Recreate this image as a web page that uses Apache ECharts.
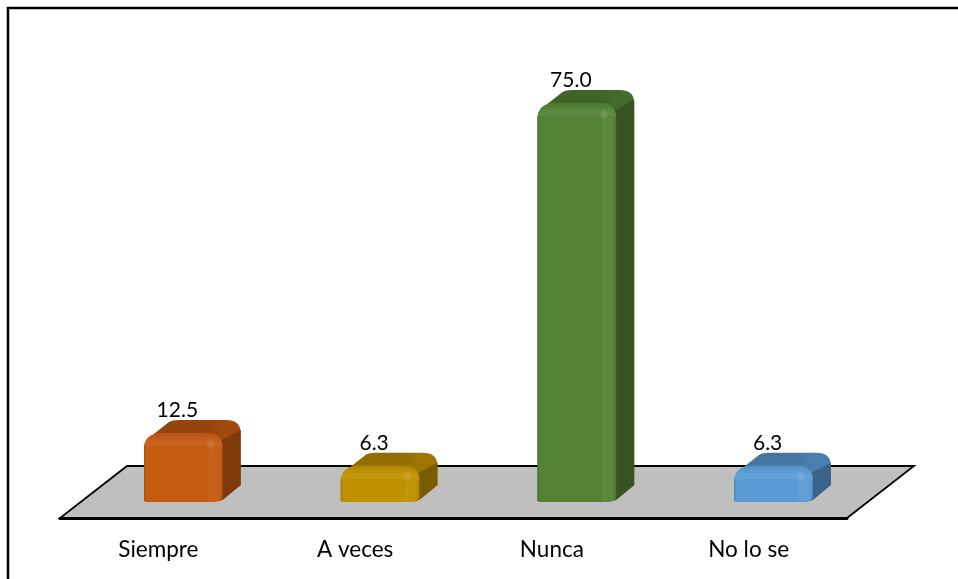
<!DOCTYPE html>
<html><head><meta charset="utf-8">
<style>html,body{margin:0;padding:0;background:#fff}#c{width:958px;height:579px}</style>
<script src="https://cdn.jsdelivr.net/npm/echarts@6/dist/echarts.min.js"></script>
</head><body><div id="c"></div>
<script>
const categories = ['Siempre', 'A veces', 'Nunca', 'No lo se'];
const values = [12.5, 6.3, 75.0, 6.3];
const barColors = ['#C55A11', '#BF9000', '#548235', '#5B9BD5'];

function shade(hex, f) {
  const n = parseInt(hex.slice(1), 16);
  const ch = [n >> 16 & 255, n >> 8 & 255, n & 255].map(c =>
    Math.round(f <= 1 ? c * f : c + (255 - c) * (f - 1)));
  return 'rgb(' + ch.join(',') + ')';
}
const hGrad = c => ({type:'linear',x:0,y:0,x2:1,y2:0,colorStops:[
  {offset:0,color:shade(c,0.85)},{offset:0.025,color:c},{offset:0.80,color:c},
  {offset:0.83,color:shade(c,1.05)},{offset:0.96,color:shade(c,1.03)},{offset:1,color:shade(c,0.9)}]});
const vGrad = c => ({type:'linear',x:0,y:0,x2:0,y2:1,colorStops:[
  {offset:0,color:shade(c,0.92)},{offset:0.6,color:shade(c,1.05)},{offset:0.92,color:shade(c,1.05)},{offset:1,color:shade(c,1.0)}]});
const topGrad = c => ({type:'linear',x:0,y:0,x2:1,y2:0,colorStops:[
  {offset:0,color:shade(c,0.76)},{offset:0.65,color:shade(c,0.76)},{offset:0.8,color:shade(c,0.82)},{offset:1,color:shade(c,0.82)}]});
const glow = c => ({type:'radial',x:0.5,y:0.5,r:0.5,colorStops:[
  {offset:0,color:shade(c,1.22)},{offset:1,color:shade(c,1.05)}]});

function renderFloor(params, api) {
  const g = params.coordSys;
  const front = g.y + g.height + 16, back = g.y + g.height - 36, dx = 67;
  const L = g.x, R = g.x + g.width;
  return {type:'polygon', shape:{points:[[L,front],[R,front],[R+dx,back],[L+dx,back]]},
    style:{fill:'#BFBFBF', stroke:'#000', lineWidth:1.8}};
}

function renderBar(params, api) {
  const i = params.dataIndex, v = api.value(1);
  const c = barColors[i];
  const base = api.coord([api.value(0), 0]);
  const T = api.coord([api.value(0), v])[1];
  const band = api.size([1, 0])[0];
  const w = band * 0.40, off = band * 0.127;
  const L = base[0] + off - w / 2, R = L + w, B = base[1];
  const dx = 18, dy = 16;
  const silhouette = `M${L} ${B-1} L${L} ${T+12} Q${L} ${T+6} ${L+6} ${T+1}
    L${L+25} ${T-dy+2} Q${L+28} ${T-dy} ${L+35} ${T-dy}
    L${R+3} ${T-dy} Q${R+dx} ${T-dy} ${R+dx} ${T-dy+13}
    L${R+dx} ${B-dy-1} L${R+1} ${B-3} Q${R-3} ${B} ${R-12} ${B}
    L${L+4} ${B} Z`;
  const side = `M${R-3} ${T+5} L${R+dx} ${T-dy+10}
    L${R+dx} ${B-dy-1} L${R+1} ${B-3} L${R-3} ${B-1} Z`;
  const front = `M${L} ${B-1} L${L} ${T+12} Q${L+1} ${T-2} ${L+17} ${T-3}
    L${R-16} ${T-3} Q${R} ${T-3} ${R} ${T+13}
    L${R} ${B-4} Q${R-3} ${B} ${R-12} ${B} L${L+4} ${B} Z`;
  const bevel = `M${L} ${T+11} Q${L+1} ${T-2} ${L+17} ${T-3}
    L${R-16} ${T-3} Q${R-1} ${T-3} ${R} ${T+11} Z`;
  const silTop = T - dy;
  return {type:'group', children:[
    {type:'path', shape:{pathData:silhouette}, style:{fill:topGrad(c)}},
    {type:'path', shape:{pathData:side}, style:{fill:shade(c,0.64)}},
    {type:'path', shape:{pathData:front}, style:{fill:hGrad(c)}},
    {type:'path', shape:{pathData:bevel}, style:{fill:vGrad(c)}},
    {type:'circle', shape:{cx:R-12,cy:T+8,r:5}, style:{fill:glow(c)}},
    {type:'text', x:L+w/2-6, y:silTop-9.5, style:{text:v.toFixed(1),
      font:'21px Lato', fill:'#000', align:'center', verticalAlign:'middle'}}
  ]};
}

const chart = echarts.init(document.getElementById('c'), null, {renderer:'canvas'});
chart.setOption({
  animation:false,
  backgroundColor:'#fff',
  grid:{left:60, width:787, top:79.6, height:422.4},
  xAxis:{type:'category', data:categories, offset:16,
    axisLine:{onZero:false, lineStyle:{color:'#000', width:3}}, axisTick:{show:false},
    axisLabel:{color:'#000', fontFamily:'Lato', fontSize:22.5, margin:20}},
  yAxis:{type:'value', min:0, max:80, show:false},
  graphic:[{type:'polyline', z:100, shape:{points:[[8,579],[8,8],[958,8]]},
    style:{stroke:'#000', lineWidth:2.5, fill:null}}],
  series:[
    {type:'custom', name:'floor', renderItem:renderFloor, z:1, silent:true,
     data:[[0,0]], encode:{x:0,y:1}},
    {type:'custom', name:'bars', renderItem:renderBar, z:3,
     data:categories.map((c,i)=>[i,values[i]]), encode:{x:0,y:1}}
  ]
});
</script></body></html>
